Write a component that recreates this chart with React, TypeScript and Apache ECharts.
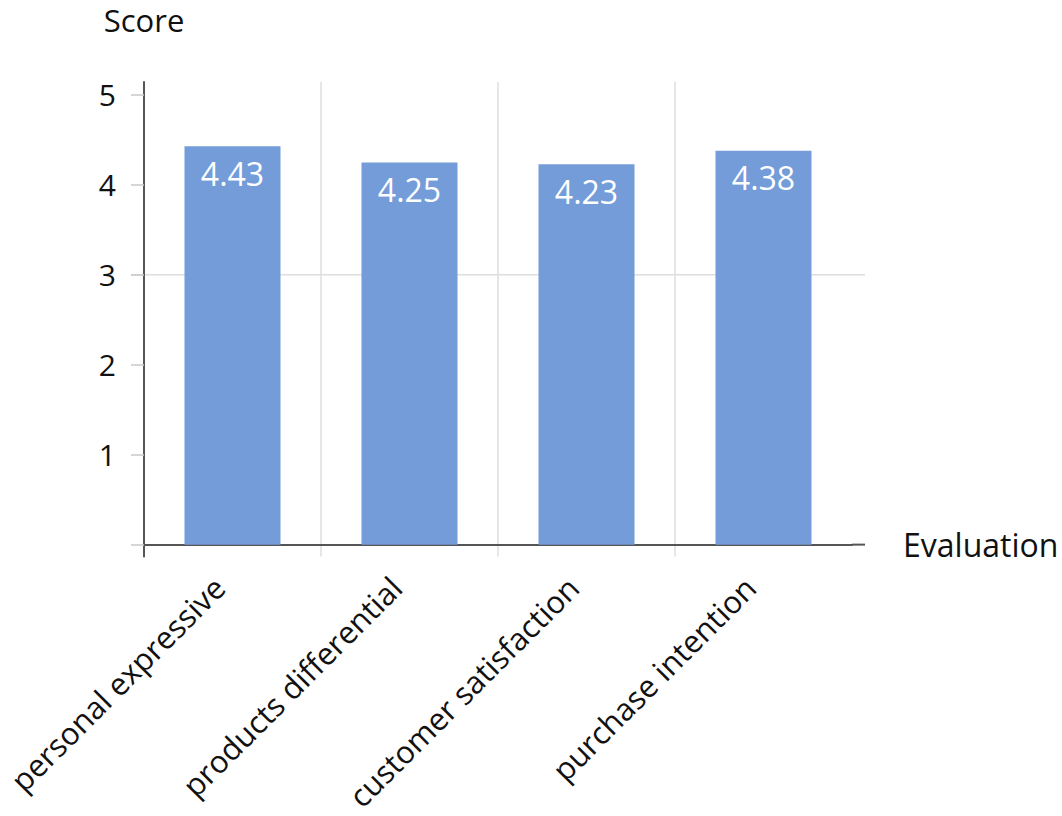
import React, { useEffect, useRef } from "react";
import * as echarts from "echarts";

const categories = [
  "personal expressive",
  "products differential",
  "customer satisfaction",
  "purchase intention",
];
const scores = [4.43, 4.25, 4.23, 4.38];
const yLabelValues = [1, 2, 3, 4, 5];
const yTickValues = [0, 1, 2, 3, 4, 5];
const gridLineValue = 3;

const FONT = "Open Sans";

export default function App() {
  const ref = useRef<HTMLDivElement>(null);
  useEffect(() => {
    if (!ref.current) return;
    const chart = echarts.init(ref.current, undefined, { renderer: "svg" });
    chart.setOption({
      animation: false,
      backgroundColor: "#ffffff",
      grid: { left: 144, right: 210, top: 82, bottom: 259, containLabel: false },
      xAxis: {
        type: "category",
        data: categories,
        name: "Evaluation",
        nameLocation: "end",
        nameGap: 51,
        nameTextStyle: { fontFamily: FONT, fontSize: 32, color: "#111", padding: [0, 0, 10, 0] },
        axisLine: { onZero: true, lineStyle: { color: "#555", width: 2 } },
        axisTick: { show: false },
        axisLabel: {
          rotate: 45,
          margin: 12,
          padding: [0, 19, 0, 0],
          fontFamily: FONT,
          fontSize: 31,
          lineHeight: 36,
          color: "#111",
          interval: 0,
        },
        splitLine: {
          show: true,
          showMinLine: false,
          showMaxLine: false,
          lineStyle: { color: "#dedede", width: 1.5 },
        },
      },
      yAxis: {
        type: "value",
        min: -12 / 90,
        max: 5 + 13 / 90,
        name: "Score",
        nameLocation: "end",
        nameGap: 46,
        nameTextStyle: {
          fontFamily: FONT,
          fontSize: 31,
          lineHeight: 32,
          color: "#111",
          align: "center",
        },
        axisLine: { show: true, lineStyle: { color: "#555", width: 2 } },
        axisTick: {
          show: true,
          length: 13,
          customValues: yTickValues,
          lineStyle: { color: "#c8c8c8", width: 1.5 },
        },
        axisLabel: {
          customValues: yLabelValues,
          margin: 28,
          fontFamily: FONT,
          fontSize: 30,
          color: "#111",
        },
        splitLine: { show: false },
      },
      series: [
        {
          type: "bar",
          data: scores,
          barWidth: 96,
          itemStyle: { color: "#739cd9" },
          label: {
            show: true,
            position: "insideTop",
            distance: 11,
            fontFamily: FONT,
            fontSize: 32,
            color: "#ffffff",
            formatter: (p: any) => p.value.toFixed(2),
          },
          z: 3,
        },
      ],
    });

    const y3 = chart.convertToPixel({ yAxisIndex: 0 }, gridLineValue) as number;
    const y0 = chart.convertToPixel({ yAxisIndex: 0 }, 0) as number;
    const xEnd = 1062 - 210;
    chart.setOption({
      graphic: [
        {
          type: "line",
          z: 0,
          shape: { x1: 131, y1: y3, x2: 865, y2: y3 },
          style: { stroke: "#dedede", lineWidth: 1.5 },
        },
        {
          type: "line",
          z: 10,
          shape: { x1: xEnd, y1: y0, x2: 865, y2: y0 },
          style: { stroke: "#555", lineWidth: 2 },
        },
      ],
    });
    return () => chart.dispose();
  }, []);
  return (
    <div
      ref={ref}
      style={{ position: "absolute", left: 0, top: 0, width: 1062, height: 816 }}
    />
  );
}
